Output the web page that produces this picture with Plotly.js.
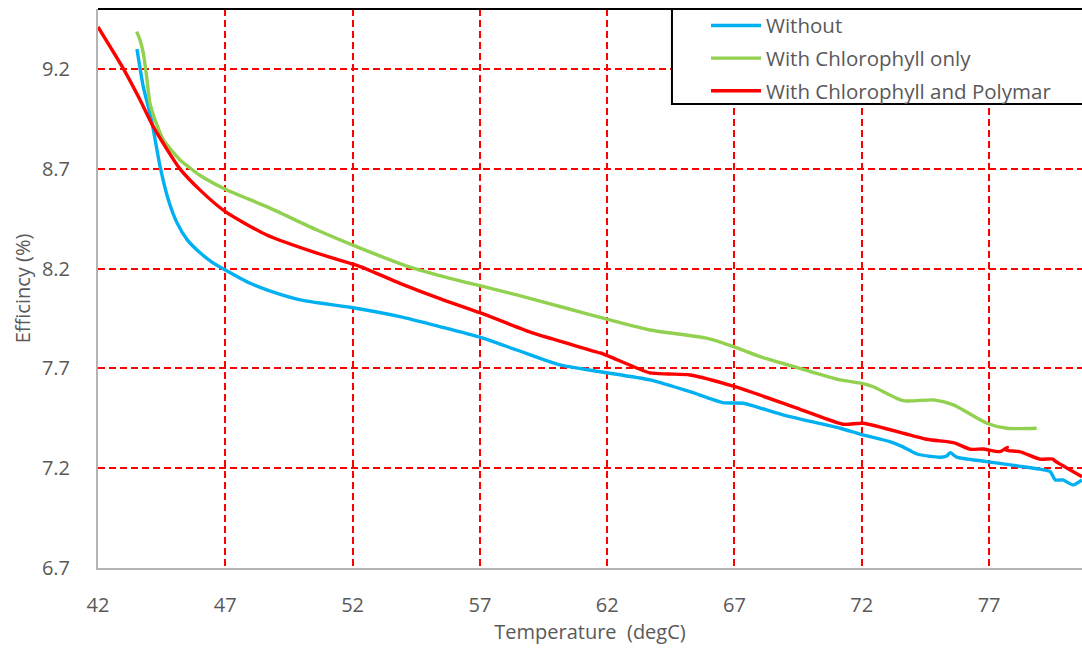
<!DOCTYPE html>
<html>
<head>
<meta charset="utf-8">
<script src="https://cdn.plot.ly/plotly-3.0.1.min.js"></script>
<style>html,body{margin:0;padding:0;background:#fff;}#chart{width:1082px;height:648px;}</style>
</head>
<body>
<div id="chart"></div>
<script>
// Series names
const seriesNames = ["Without", "With Chlorophyll only", "With Chlorophyll and Polymar"];

// Without
const tempWithout = [43.53, 43.78, 44.1, 44.44, 44.75, 45.1, 45.5, 46.0, 46.5, 47.0, 48.0, 48.63, 49.94, 51.9, 53.86, 55.43, 57.0, 58.45, 60.15, 61.72, 63.68, 65.25, 66.55, 67.34, 68.9, 71.15, 71.93, 73.1, 73.6, 74.17, 75.07, 75.34, 75.47, 75.73, 76.9, 79.0, 79.4, 79.6, 79.9, 80.3, 80.65];
const effWithout  = [9.30, 9.11, 8.945, 8.71, 8.55, 8.43, 8.345, 8.28, 8.23, 8.193, 8.125, 8.093, 8.043, 8.006, 7.959, 7.909, 7.856, 7.792, 7.717, 7.683, 7.642, 7.583, 7.528, 7.525, 7.467, 7.40, 7.371, 7.333, 7.308, 7.271, 7.255, 7.261, 7.278, 7.255, 7.233, 7.195, 7.183, 7.141, 7.141, 7.116, 7.141];

// With Chlorophyll only
const tempChloro = [43.52, 43.65, 43.78, 43.91, 44.04, 44.24, 44.57, 45.22, 45.6, 46.0, 47.0, 48.63, 50.6, 52.3, 54.25, 55.83, 57.0, 58.45, 60.4, 62.1, 63.68, 65.9, 67.02, 68.0, 69.57, 71.15, 72.0, 72.45, 73.63, 74.81, 75.6, 76.91, 77.7, 78.87];
const effChloro  = [9.387, 9.345, 9.279, 9.161, 9.028, 8.945, 8.844, 8.744, 8.705, 8.667, 8.597, 8.51, 8.393, 8.302, 8.207, 8.151, 8.114, 8.068, 8.001, 7.943, 7.892, 7.851, 7.806, 7.759, 7.70, 7.642, 7.625, 7.608, 7.538, 7.542, 7.517, 7.425, 7.40, 7.40];

// With Chlorophyll and Polymar
const tempPoly = [42.0, 43.0, 43.65, 44.17, 45.22, 46.0, 47.0, 48.63, 50.6, 52.3, 53.86, 55.56, 57.0, 59.1, 61.72, 62.1, 63.68, 64.4, 65.25, 67.02, 69.58, 71.28, 72.05, 74.55, 75.6, 76.26, 76.77, 77.43, 77.72, 77.66, 78.2, 79.0, 79.5, 79.6, 80.65];
const effPoly  = [9.41, 9.2, 9.045, 8.911, 8.699, 8.594, 8.485, 8.368, 8.277, 8.21, 8.126, 8.043, 7.979, 7.876, 7.777, 7.759, 7.677, 7.672, 7.667, 7.608, 7.495, 7.42, 7.425, 7.345, 7.328, 7.295, 7.296, 7.283, 7.305, 7.29, 7.283, 7.245, 7.246, 7.235, 7.157];

// Axis ticks
const xTicks = [42, 47, 52, 57, 62, 67, 72, 77];
const yTicks = [6.7, 7.2, 7.7, 8.2, 8.7, 9.2];

const colors = ["#00B0F0", "#92D050", "#FF0000"];
const xs = [tempWithout, tempChloro, tempPoly];
const ys = [effWithout, effChloro, effPoly];

const traces = seriesNames.map((n, i) => ({
  type: "scatter", mode: "lines", name: n, legendgroup: "g" + i,
  x: xs[i], y: ys[i],
  line: {color: colors[i], width: 3.4, shape: "spline", smoothing: 0.6}
}));

const fontFam = "Open Sans, sans-serif";
const gray = "#595959";

const layout = {
  width: 1082, height: 648,
  margin: {l: 98, r: 0, t: 9, b: 80, autoexpand: false},
  paper_bgcolor: "#fff", plot_bgcolor: "#fff",
  font: {family: fontFam, size: 20, color: gray},
  showlegend: true,
  legend: {
    x: 0.6179, y: 1.006, xanchor: "left", yanchor: "top",
    bgcolor: "rgba(0,0,0,0)", borderwidth: 0,
    font: {family: fontFam, size: 20.5, color: gray},
    itemwidth: 50, tracegroupgap: 3
  },
  xaxis: {
    range: [42, 80.65],
    tickvals: xTicks, ticktext: xTicks.map(String),
    showgrid: true, gridcolor: "#FF0000", gridwidth: 2, griddash: "7px,4px",
    showline: true, linecolor: "#B4B4B4", linewidth: 2,
    zeroline: false, ticks: "", ticklabelstandoff: 18,
    tickfont: {family: fontFam, size: 20, color: gray},
    title: {text: "Temperature  (degC)", font: {family: fontFam, size: 20, color: gray}, standoff: 8}
  },
  yaxis: {
    range: [6.7, 9.5],
    tickvals: yTicks, ticktext: yTicks.map(v => v.toFixed(1)),
    showgrid: true, gridcolor: "#FF0000", gridwidth: 2, griddash: "7px,4px",
    showline: true, linecolor: "#B4B4B4", linewidth: 2,
    zeroline: false, ticks: "", ticklabelstandoff: 22,
    tickfont: {family: fontFam, size: 20, color: gray},
    title: {text: "Efficincy (%)", font: {family: fontFam, size: 20, color: gray}, standoff: 6}
  },
  shapes: [
    {type: "rect", xref: "paper", yref: "paper", x0: 0.5833, x1: 1.05, y0: 0.830, y1: 1,
     line: {color: "#000", width: 2}, fillcolor: "#fff", layer: "above"},
    {type: "line", xref: "paper", yref: "paper", x0: 0, x1: 1, y0: 1, y1: 1,
     line: {color: "#000", width: 2}, layer: "above"}
  ]
};

Plotly.newPlot("chart", traces, layout, {displayModeBar: false, staticPlot: true});
</script>
</body>
</html>
